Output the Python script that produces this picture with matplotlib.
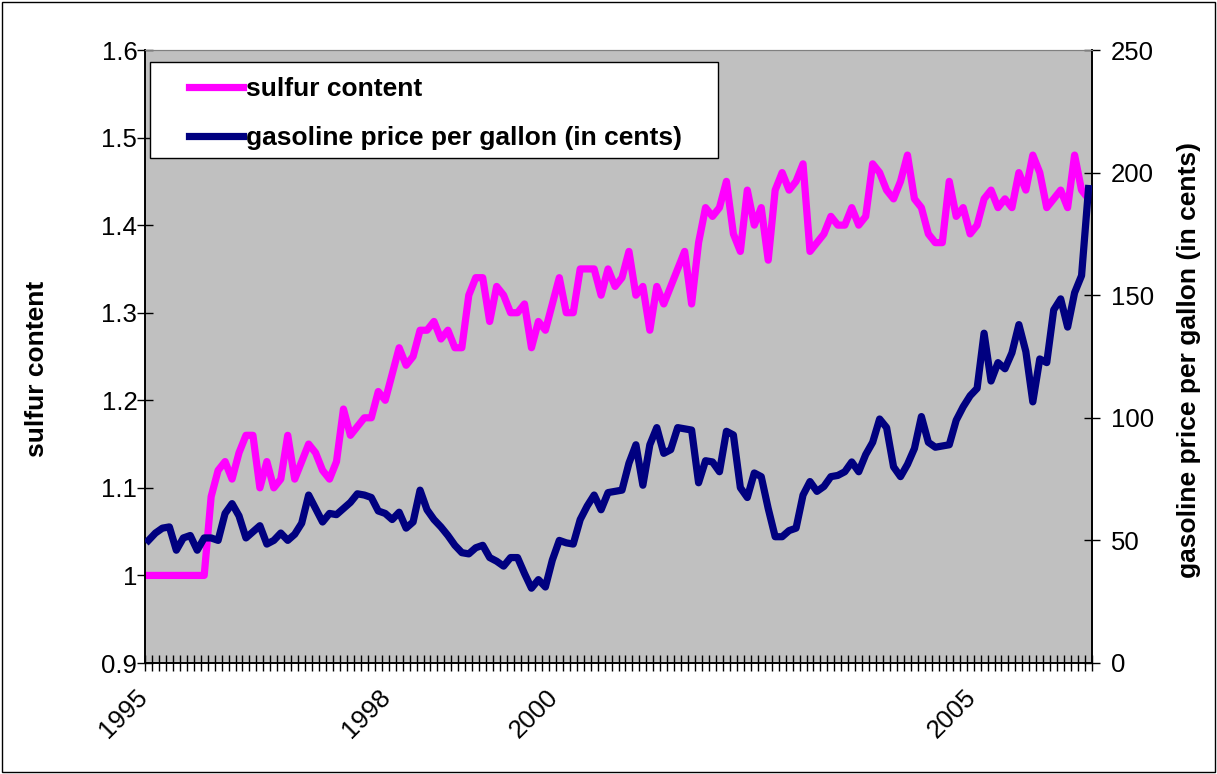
import numpy as np
import matplotlib
matplotlib.use('Agg')
from matplotlib import pyplot as plt
from matplotlib.patches import Rectangle
from matplotlib.ticker import FuncFormatter
import matplotlib.transforms as mtransforms

plt.rcParams['font.family'] = ['Liberation Sans', 'DejaVu Sans']

# monthly values, Jan 1995 .. Apr 2006
sulfur = [1.00, 1.00, 1.00, 1.00, 1.00, 1.00, 1.00, 1.00, 1.00, 1.09,
          1.12, 1.13, 1.11, 1.14, 1.16, 1.16, 1.10, 1.13, 1.10, 1.11,
          1.16, 1.11, 1.13, 1.15, 1.14, 1.12, 1.11, 1.13, 1.19, 1.16,
          1.17, 1.18, 1.18, 1.21, 1.20, 1.23, 1.26, 1.24, 1.25, 1.28,
          1.28, 1.29, 1.27, 1.28, 1.26, 1.26, 1.32, 1.34, 1.34, 1.29,
          1.33, 1.32, 1.30, 1.30, 1.31, 1.26, 1.29, 1.28, 1.31, 1.34,
          1.30, 1.30, 1.35, 1.35, 1.35, 1.32, 1.35, 1.33, 1.34, 1.37,
          1.32, 1.33, 1.28, 1.33, 1.31, 1.33, 1.35, 1.37, 1.31, 1.38,
          1.42, 1.41, 1.42, 1.45, 1.39, 1.37, 1.44, 1.40, 1.42, 1.36,
          1.44, 1.46, 1.44, 1.45, 1.47, 1.37, 1.38, 1.39, 1.41, 1.40,
          1.40, 1.42, 1.40, 1.41, 1.47, 1.46, 1.44, 1.43, 1.45, 1.48,
          1.43, 1.42, 1.39, 1.38, 1.38, 1.45, 1.41, 1.42, 1.39, 1.40,
          1.43, 1.44, 1.42, 1.43, 1.42, 1.46, 1.44, 1.48, 1.46, 1.42,
          1.43, 1.44, 1.42, 1.48, 1.44, 1.43]

gas = [50, 53, 55, 55.5, 46, 51, 52, 46, 51, 51,
       50, 61, 65, 60, 51, 53.5, 56, 48.5, 50, 53,
       50, 52.5, 57, 68.5, 63, 57.5, 61, 60.5, 63, 65.5,
       69, 68.5, 67.5, 62, 61, 58.5, 61.5, 55, 57.5, 70.5,
       62.5, 58.5, 55.5, 52, 48, 45, 44.5, 47, 48, 43,
       41.5, 39.5, 43, 43, 36.5, 30.5, 34, 31, 42, 50,
       49, 48.5, 58.5, 64, 68.5, 62.5, 69.5, 70, 70.5, 81.5,
       89, 72.5, 89, 96, 85.5, 87, 96, 95.5, 95, 73.5,
       82.5, 82, 78, 94.5, 93, 71.5, 67.5, 77.5, 76, 63,
       51.5, 51.5, 54, 55, 68.5, 74, 70, 72, 76, 76.5,
       78, 82, 78, 85, 90, 99.5, 96, 80, 76, 81,
       87.5, 100.5, 90, 88, 88.5, 89, 99, 104.5, 109, 112,
       134.5, 115, 122.5, 120, 126.5, 138, 127, 106.5, 124, 122.5,
       144, 148.5, 137, 151, 158, 193.5]

# category rows that carry a year label
label_rows = [0, 35, 59, 119]
label_years = ['1995', '1998', '2000', '2005']

n = len(sulfur)
x = np.arange(n)

fig = plt.figure(figsize=(12.17, 7.74), dpi=100)
W, H = 1217.0, 774.0
ax = fig.add_axes([145/W, 1-663/H, 947/W, 613/H])
ax.set_facecolor('#c0c0c0')
ax2 = ax.twinx()

l1, = ax.plot(x, sulfur, color='#ff00ff', lw=5.2, solid_joinstyle='round', zorder=2)
l2, = ax2.plot(x, gas, color='#000080', lw=5.2, solid_joinstyle='round', zorder=3)

ax.set_xlim(-0.5, n-0.5)
ax.set_ylim(0.9, 1.6)
ax.set_yticks(np.arange(0.9, 1.61, 0.1))
ax.yaxis.set_major_formatter(FuncFormatter(lambda v, p: '%g' % round(v, 2)))
ax2.set_ylim(0, 250)
ax2.set_yticks(np.arange(0, 251, 50))

ax.set_xticks(label_rows)
ax.set_xticklabels(label_years, rotation=45, ha='right', va='center',
                   rotation_mode='anchor')
ax.set_xticks(np.arange(-0.5, n, 1.0), minor=True)
ax.tick_params(axis='x', which='major', length=0, pad=22, labelsize=18.5)
ax.tick_params(axis='x', which='minor', direction='inout', length=11, width=1)
off = mtransforms.ScaledTranslation(-5/100., 0, fig.dpi_scale_trans)
for t in ax.get_xticklabels():
    t.set_transform(t.get_transform() + off)

ax.tick_params(axis='y', direction='inout', length=11, width=1, pad=0, labelsize=18.5)
ax2.tick_params(axis='y', direction='inout', length=11, width=1, pad=8, labelsize=18.5)

for a in (ax, ax2):
    a.spines['top'].set_color('#808080')
    for s in ('left', 'right', 'bottom'):
        a.spines[s].set_color('black')
        a.spines[s].set_linewidth(1.2)

fig.text(37/W, 1-369/H, 'sulfur content', rotation=90, ha='center', va='center',
         fontsize=19, fontweight='bold')
fig.text(1189/W, 1-360/H, 'gasoline price per gallon (in cents)', rotation=90,
         ha='center', va='center', fontsize=19, fontweight='bold')

# legend box
fig.patches.append(Rectangle((150/W, 1-158/H), 568/W, 96/H, transform=fig.transFigure,
                             facecolor='white', edgecolor='black', lw=1, zorder=4))
fig.legend([l1, l2], ['sulfur content', 'gasoline price per gallon (in cents)'],
           loc='upper left', bbox_to_anchor=(176/W, 1-64/H), borderpad=0,
           labelspacing=0.95, handlelength=2.05, handletextpad=0.1, frameon=False,
           prop={'weight': 'bold', 'size': 19})

# chart border
fig.patches.append(Rectangle((2/W, 2/H), 1-4/W, 1-4/H, transform=fig.transFigure,
                             facecolor='none', edgecolor='black', lw=1, zorder=0))

fig.savefig('out.png', dpi=100)
